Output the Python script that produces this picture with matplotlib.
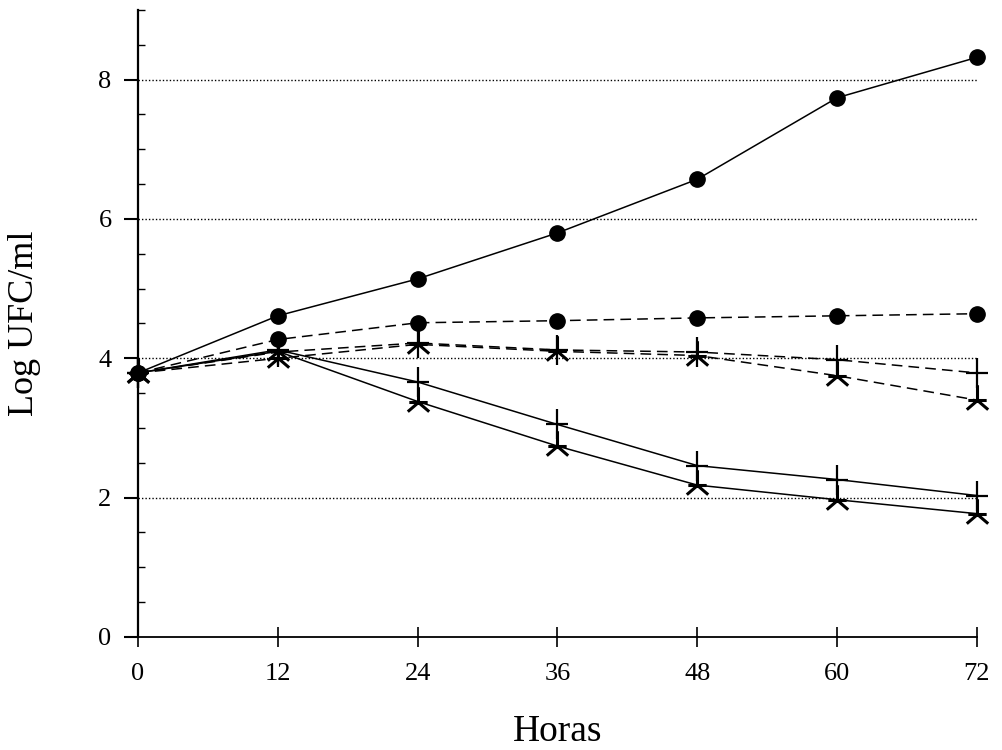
import matplotlib.pyplot as plt
import numpy as np
from matplotlib.path import Path
from matplotlib.ticker import MultipleLocator

plt.rcParams['font.family'] = ['Liberation Serif', 'DejaVu Serif']

horas = [0, 12, 24, 36, 48, 60, 72]

# log UFC/ml
circ_solid = [3.79, 4.61, 5.14, 5.80, 6.57, 7.74, 8.32]
circ_dash = [3.79, 4.27, 4.51, 4.54, 4.58, 4.61, 4.64]
plus_dash = [3.79, 4.09, 4.22, 4.12, 4.09, 3.98, 3.79]
star_dash = [3.79, 4.00, 4.20, 4.10, 4.04, 3.75, 3.40]
plus_solid = [3.79, 4.12, 3.66, 3.05, 2.46, 2.26, 2.03]
star_solid = [3.79, 4.10, 3.38, 2.74, 2.18, 1.97, 1.77]

# asterisk-like marker: up stroke, short bar, two legs down
star = Path([(0, 0), (0, 1), (-0.6, 0), (0.6, 0), (0, 0), (-0.7, -0.6), (0, 0), (0.7, -0.6)],
            [Path.MOVETO, Path.LINETO, Path.MOVETO, Path.LINETO,
             Path.MOVETO, Path.LINETO, Path.MOVETO, Path.LINETO])
plus = Path([(0, -1), (0, 1), (-0.75, 0), (0.75, 0)],
            [Path.MOVETO, Path.LINETO, Path.MOVETO, Path.LINETO])

fig = plt.figure(figsize=(10.02, 7.5), dpi=100)
ax = fig.add_axes([0.1377, 0.1507, 0.8373, 0.836])

for g in [2, 4, 6, 8]:
    ax.plot([0, 72], [g, g], ls=(0, (1, 1.5)), color='k', lw=1)

dash = (0, (7, 4))
kw = dict(color='k', lw=1.1, clip_on=False)
ax.plot(horas, circ_solid, ls='-', marker='o', ms=11, **kw)
ax.plot(horas, circ_dash, ls=dash, marker='o', ms=11, **kw)
ax.plot(horas, plus_dash, ls=dash, marker=plus, ms=22, mew=1.6, **kw)
ax.plot(horas, star_dash, ls=dash, marker=star, ms=22, mew=2.2, **kw)
ax.plot(horas, plus_solid, ls='-', marker=plus, ms=22, mew=1.6, **kw)
ax.plot(horas, star_solid, ls='-', marker=star, ms=22, mew=2.2, **kw)

ax.set_xlim(0, 72)
ax.set_ylim(0, 9)
ax.spines['right'].set_visible(False)
ax.spines['top'].set_visible(False)
ax.spines['left'].set_linewidth(1.6)
ax.spines['bottom'].set_linewidth(1.3)

ax.set_xticks(horas)
ax.set_yticks([0, 2, 4, 6, 8])
ax.yaxis.set_minor_locator(MultipleLocator(0.5))
ax.tick_params(axis='x', direction='inout', length=14, width=1.2, labelsize=19, pad=12)
ax.tick_params(axis='y', which='major', direction='out', length=10, width=1.5, labelsize=19, pad=9)
ax.tick_params(axis='y', which='minor', direction='in', length=5, width=1)

ax.set_xlabel('Horas', fontsize=27, labelpad=21)
fig.text(25 / 1002, 0.569, 'Log UFC/ml', fontsize=26, rotation=90, ha='center', va='center')

fig.savefig('out.png', dpi=100)
